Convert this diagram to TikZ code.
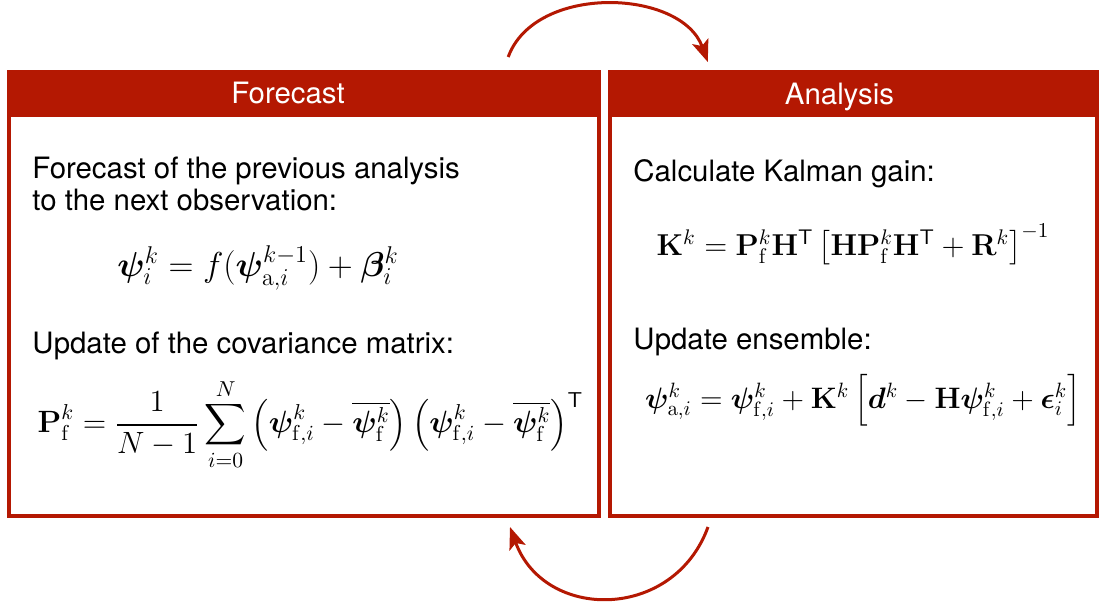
\RequirePackage{fix-cm}
\documentclass[tikz,border=0pt]{standalone}
\usepackage{amsmath}
\usepackage{bm}
\usepackage[no-math]{fontspec}
\setmainfont{TeX Gyre Heros}
\usepackage{tikz}
\usetikzlibrary{arrows.meta,positioning,calc}
\definecolor{kfred}{RGB}{180,24,2}

\begin{document}
\begin{tikzpicture}[
    x=0.5pt, y=-0.5pt,
    >={Stealth[length=11pt,width=8.5pt,inset=2.5pt]},
    body/.style={draw=kfred, line width=2.2pt, rectangle, minimum height=200.5pt, outer sep=0pt, inner sep=0pt},
    head/.style={fill=kfred, text=white, rectangle, minimum height=22.5pt, text depth=0pt, outer sep=0pt, inner sep=0pt, font=\fontsize{14.7}{17}\selectfont},
    txt/.style={anchor=base west, inner sep=0pt, font=\fontsize{14.7}{17}\selectfont},
    eqn/.style={anchor=base, inner sep=0pt, font=\fontsize{#1}{19}\selectfont},
    eqn/.default=15,
    connector/.style={->, draw=kfred, line width=1.5pt}
]

    \useasboundingbox (0,0) rectangle (1099,605);

    \node [body, minimum width=295pt] (fcBody) at (304,315.5) {};
    \node [body, minimum width=243.5pt, right=5.5pt of fcBody] (anBody) {};
    \node [head, minimum width=297.2pt, above=0pt of fcBody] (fcHead) {Forecast\hspace*{16pt}};
    \node [head, minimum width=245.7pt, above=0pt of anBody] (anHead) {\raisebox{-1pt}{Analysis}\hspace*{14pt}};


    \node [txt] (fcLine1) at (32,178.3) {Forecast of the previous analysis};
    \node [txt] (fcLine2) at (32,210.7) {to the next observation:};
    \node [eqn=17.3] (fcState) at (258,276) {$\bm{\psi}_i^k = f(\bm{\psi}_{\mathrm{a},i}^{k-1}) + \bm{\beta}_i^k$};
    \node [txt] (fcLine3) at (32,353) {Update of the covariance matrix:};
    \node [eqn=15.4] (fcCov) at (310.5,432.7) {$\displaystyle \mathbf{P}_{\mathrm{f}}^k = \frac{1}{N-1}\sum_{i=0}^{N}\left(\bm{\psi}_{\mathrm{f},i}^k - \overline{\bm{\psi}_{\mathrm{f}}^k}\right)\left(\bm{\psi}_{\mathrm{f},i}^k - \overline{\bm{\psi}_{\mathrm{f}}^k}\right)^{\mathsf{T}}$};


    \node [txt] (anLine1) at (633,181.7) {Calculate Kalman gain:};
    \node [eqn=15.1] (anGain) at (853,255) {$\mathbf{K}^k = \mathbf{P}_{\mathrm{f}}^k\mathbf{H}^{\mathsf{T}}\left[\mathbf{H}\mathbf{P}_{\mathrm{f}}^k\mathbf{H}^{\mathsf{T}} + \mathbf{R}^k\right]^{-1}$};
    \node [txt] (anLine2) at (633,349) {Update ensemble:};
    \node [eqn=14.8] (anUpdate) at (863,408) {$\bm{\psi}_{\mathrm{a},i}^k = \bm{\psi}_{\mathrm{f},i}^k + \mathbf{K}^k\left[\bm{d}^k - \mathbf{H}\bm{\psi}_{\mathrm{f},i}^k + \bm{\epsilon}_i^k\right]$};


    \coordinate (fcOut) at ($(fcHead.north east)+(-93,-13)$);
    \coordinate (anIn) at ($(anHead.north west)+(100,-8)$);
    \coordinate (anOut) at ($(anBody.south west)+(98,11)$);
    \coordinate (fcIn) at ($(fcBody.south east)+(-89,11)$);

    \draw [connector] (fcOut) to[out=70, in=110] (anIn);
    \draw [connector] (anOut) to[out=-110, in=-70, looseness=1.3] (fcIn);

\end{tikzpicture}
\end{document}
